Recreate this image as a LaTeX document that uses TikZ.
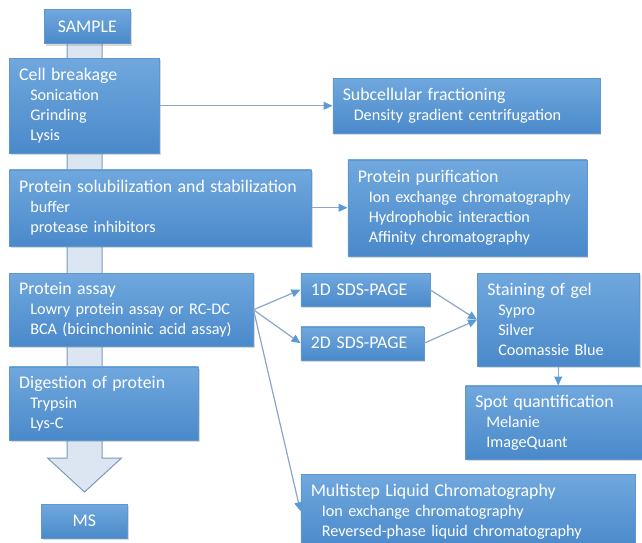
\documentclass[tikz,border=0pt]{standalone}
\usepackage{fontspec}
\setmainfont{Carlito}
\usetikzlibrary{positioning, arrows.meta, shadows, backgrounds}

\definecolor{boxtop}{RGB}{112,168,222}
\definecolor{boxbottom}{RGB}{74,137,202}
\definecolor{boxedge}{RGB}{95,150,205}
\definecolor{spinefill}{RGB}{220,230,242}
\definecolor{spineedge}{RGB}{125,152,190}
\definecolor{linkgray}{RGB}{140,165,200}
\definecolor{tipblue}{RGB}{91,155,213}

\newcommand{\headfont}{\fontsize{17.8}{20}\selectfont}
\newcommand{\itemfont}{\fontsize{16.2}{20}\selectfont}
\newcommand{\subline}{\hspace*{11pt}}

\begin{document}
\begin{tikzpicture}[
    x=1pt, y=-1pt,
    box/.style={rectangle, draw=boxedge, line width=0.5pt, top color=boxtop, bottom color=boxbottom,
        text=white, align=left, inner xsep=10pt, inner ysep=2pt, font=\itemfont,
        drop shadow={shadow xshift=1.5pt, shadow yshift=-2pt, opacity=0.3}},
    endbox/.style={box, align=center, minimum width=86pt, minimum height=34pt, font=\headfont},
    gelbox/.style={box, minimum height=33pt, font=\headfont},
    spine/.style={draw=spineedge, fill=spinefill, line width=1pt, line join=miter},
    arrow/.style={-{Triangle[length=9pt, width=8pt, color=tipblue]}, draw=linkgray, line width=1.2pt},
]
\useasboundingbox (0,0) rectangle (642,543);

% Main column
\node[box, anchor=north west, text width=130pt, minimum height=95pt] (cell) at (9,58)
    {{\headfont Cell breakage}\\\subline Sonication\\\subline Grinding\\\subline Lysis};
\node[endbox, above=14pt of cell.north, xshift=3pt] (sample) {SAMPLE};
\node[box, below=16pt of cell.south west, anchor=north west, text width=282pt, minimum height=76pt] (solub)
    {{\headfont Protein solubilization and stabilization}\\\subline buffer\\\subline protease inhibitors};
\node[box, below=27pt of solub.south west, anchor=north west, text width=224pt, minimum height=73pt] (assay)
    {{\headfont Protein assay}\\\subline Lowry protein assay or RC-DC\\\subline BCA (bicinchoninic acid assay)};
\node[box, below=20pt of assay.south west, anchor=north west, text width=169pt, minimum height=73pt] (digest)
    {{\headfont Digestion of protein}\\\subline Trypsin\\\subline Lys-C};
\node[endbox, below=64pt of digest.south west, anchor=north west, xshift=32pt] (ms) {MS};

% Side branches
\node[box, right=173pt of cell, text width=247pt, minimum height=55pt] (subcell)
    {{\headfont Subcellular fractioning}\\\subline Density gradient centrifugation};
\node[box, right=36pt of solub, text width=219pt, minimum height=96pt] (purif)
    {{\headfont Protein purification}\\\subline Ion exchange chromatography\\\subline Hydrophobic interaction\\\subline Affinity chromatography};
\node[gelbox, right=47pt of assay, yshift=20pt, text width=109pt] (sds1) {1D SDS-PAGE};
\node[gelbox, below=20pt of sds1.south west, anchor=north west, text width=103pt] (sds2) {2D SDS-PAGE};
\node[box, right=47pt of sds1.north east, anchor=north west, text width=142pt, minimum height=93pt] (stain)
    {{\headfont Staining of gel}\\\subline Sypro\\\subline Silver\\\subline Coomassie Blue};
\node[box, below=19pt of stain.south west, anchor=north west, xshift=-12pt, text width=159pt, minimum height=73pt] (spot)
    {{\headfont Spot quantification}\\\subline Melanie\\\subline ImageQuant};
\node[box, below=114pt of sds2.south west, anchor=north west, text width=314pt, minimum height=74pt] (mlc)
    {{\headfont Multistep Liquid Chromatography}\\\subline Ion exchange chromatography\\\subline Reversed-phase\ liquid chromatography};

% Workflow arrow behind the main column
\begin{scope}[on background layer]
\draw[spine] (67,40) -- (67,458) -- (47.5,458) -- (84.5,492) -- (121.5,458) -- (102,458) -- (102,40);
\end{scope}

% Connectors
\draw[arrow] (cell) -- (subcell);
\draw[arrow] (solub) -- (purif);
\draw[arrow] (assay.east) -- (sds1.west);
\draw[arrow] (assay.east) -- (sds2.west);
\draw[arrow] (assay.east) -- (mlc.west);
\draw[arrow] (sds1.east) -- (stain.west);
\draw[arrow] (sds2.east) -- (stain.west);
\draw[arrow] (stain.south) -- (stain.south |- spot.north);

\end{tikzpicture}
\end{document}
